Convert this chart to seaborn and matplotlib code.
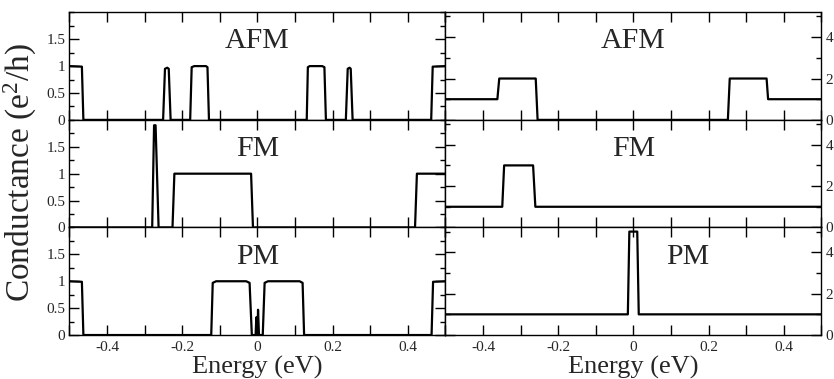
import matplotlib
matplotlib.use("Agg")
import matplotlib.pyplot as plt
import seaborn as sns
from matplotlib.ticker import MultipleLocator, FixedLocator, FuncFormatter

# data: breakpoints (energy in eV, conductance in e^2/h)
afm_left_e = [-0.5, -0.467, -0.463, -0.251, -0.246, -0.240, -0.236, -0.231,
              -0.179, -0.175, -0.168, -0.137, -0.133, -0.129,
              0.131, 0.134, 0.139, 0.172, 0.178, 0.182,
              0.235, 0.240, 0.245, 0.248, 0.253, 0.462, 0.466, 0.5]
afm_left_g = [1.0, 0.99, 0.0, 0.0, 0.95, 0.97, 0.95, 0.0,
              0.0, 0.98, 1.0, 1.0, 0.98, 0.0,
              0.0, 0.98, 1.0, 1.0, 0.98, 0.0,
              0.0, 0.95, 0.97, 0.95, 0.0, 0.0, 0.99, 1.0]

fm_left_e = [-0.5, -0.280, -0.275, -0.271, -0.263, -0.226, -0.221,
             -0.017, -0.012, 0.419, 0.424, 0.5]
fm_left_g = [0.0, 0.0, 1.9, 1.9, 0.0, 0.0, 1.0,
             1.0, 0.0, 0.0, 1.0, 1.0]

pm_left_e = [-0.5, -0.467, -0.463, -0.123, -0.119, -0.110, -0.030, -0.021,
             -0.015, -0.005, -0.003, -0.0015, 0.000, 0.0015, 0.004, 0.014,
             0.019, 0.028, 0.112, 0.120, 0.124, 0.463, 0.467, 0.5]
pm_left_g = [1.0, 0.99, 0.0, 0.0, 0.97, 1.0, 1.0, 0.97,
             0.0, 0.0, 0.33, 0.02, 0.02, 0.47, 0.0, 0.0,
             0.97, 1.0, 1.0, 0.97, 0.0, 0.0, 0.99, 1.0]

afm_right_e = [-0.5, -0.362, -0.357, -0.260, -0.255, 0.251, 0.256, 0.354, 0.358, 0.5]
afm_right_g = [1, 1, 2, 2, 0, 0, 2, 2, 1, 1]

fm_right_e = [-0.5, -0.349, -0.344, -0.267, -0.261, 0.5]
fm_right_g = [1, 1, 3, 3, 1, 1]

pm_right_e = [-0.5, -0.015, -0.011, 0.010, 0.014, 0.5]
pm_right_g = [1, 1, 5, 5, 1, 1]

phases = ["AFM", "FM", "PM"]
left_data = [(afm_left_e, afm_left_g), (fm_left_e, fm_left_g), (pm_left_e, pm_left_g)]
right_data = [(afm_right_e, afm_right_g), (fm_right_e, fm_right_g), (pm_right_e, pm_right_g)]

sns.set_style("ticks")
plt.rcParams['font.family'] = ['Liberation Serif', 'DejaVu Serif']
plt.rcParams['mathtext.default'] = 'regular'
plt.rcParams['axes.unicode_minus'] = False

fig = plt.figure(figsize=(8.34, 3.79), dpi=100)
axes = fig.subplots(3, 2, sharex=True, gridspec_kw=dict(hspace=0, wspace=0))
fig.subplots_adjust(left=0.0833, right=0.985, top=0.9675, bottom=0.116)

fmt = FuncFormatter(lambda v, p: "%g" % round(v, 3))

for i, name in enumerate(phases):
    for j, (e, g) in enumerate([left_data[i], right_data[i]]):
        ax = axes[i, j]
        sns.lineplot(x=e, y=g, ax=ax, color="black", linewidth=1.6,
                     estimator=None, sort=False)
        ax.set_xlim(-0.5, 0.5)
        ax.xaxis.set_major_locator(MultipleLocator(0.2))
        ax.xaxis.set_minor_locator(MultipleLocator(0.1))
        ax.xaxis.set_major_formatter(fmt)
        if j == 0:
            ax.set_ylim(0, 2.0)
            ax.yaxis.set_major_locator(FixedLocator([0, 0.5, 1, 1.5]))
            ax.yaxis.set_minor_locator(MultipleLocator(0.25))
            tx = 0.5
        else:
            ax.set_ylim(0, 5.2)
            ax.yaxis.set_major_locator(FixedLocator([0, 2, 4]))
            ax.yaxis.set_minor_locator(FixedLocator([1, 3, 5]))
            tx = 0.5 if name != "PM" else 0.644
        ax.yaxis.set_major_formatter(fmt)
        ax.tick_params(which='both', direction='in', top=True, bottom=True,
                       left=True, right=True, labelsize=11, width=1, color='black')
        ax.tick_params(which='major', length=7)
        ax.tick_params(axis='y', which='minor', length=3.5)
        ax.tick_params(axis='x', which='minor', length=7)
        ax.tick_params(axis='x', pad=4)
        ax.tick_params(axis='y', pad=3)
        if j == 1:
            ax.tick_params(axis='y', labelleft=False, labelright=True)
        if i < 2:
            ax.tick_params(axis='x', labelbottom=False)
        for s in ax.spines.values():
            s.set_linewidth(1.0)
            s.set_color('black')
        ax.text(tx, 0.73, name, transform=ax.transAxes, ha='center', va='center',
                fontsize=21.5)
        ax.set_ylabel("")

for ax in axes[2]:
    ax.set_xlabel("Energy (eV)", fontsize=19, labelpad=2)

fig.text(0.024, 0.545, "Conductance (e$^2$/h)", rotation=90, ha='center',
         va='center', fontsize=24)

fig.savefig("out.png", dpi=100)
